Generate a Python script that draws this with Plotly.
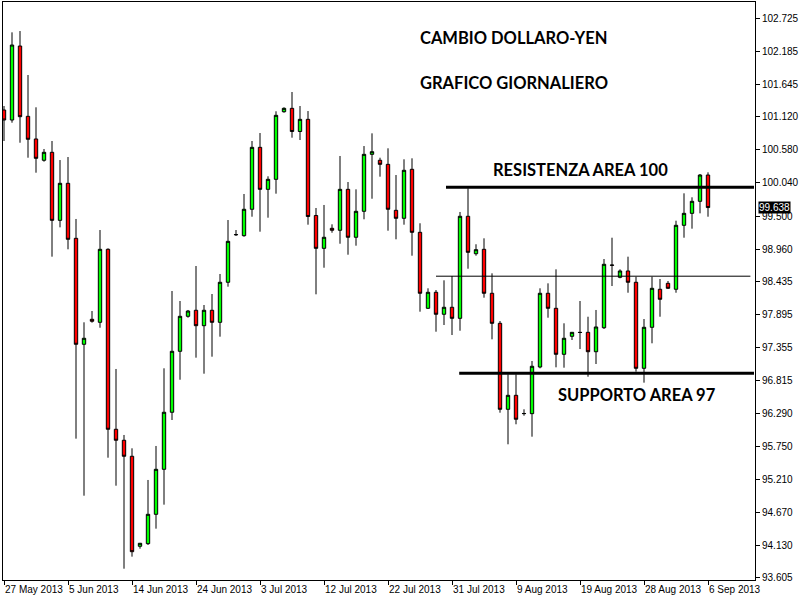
import pandas as pd
import plotly.graph_objects as go

# ---- data (USD/JPY daily, 27 May 2013 - 6 Sep 2013, broker with Sunday bars) ----
dates = [d.strftime("%Y-%m-%d") for d in pd.date_range("2013-05-27", "2013-09-06") if d.weekday() != 5]

open_ = [101.227, 101.064, 102.269, 101.124, 100.755, 100.408, 100.538, 99.430, 100.033, 99.137,
         97.411, 97.818, 97.769, 98.958, 96.027, 95.848, 95.587, 94.121, 94.164, 94.642,
         95.375, 96.304, 97.297, 97.867, 97.965, 97.714, 97.965, 97.769, 98.421, 99.195,
         99.180, 99.610, 100.619, 99.935, 100.098, 101.199, 101.254, 100.877, 101.075, 99.509,
         98.974, 99.300, 99.268, 99.935, 99.154, 99.577, 100.505, 100.408, 100.342, 99.593,
         99.463, 100.261, 99.235, 97.997, 98.258, 97.900, 98.014, 97.834, 99.496, 98.886,
         98.958, 98.242, 97.753, 96.352, 96.580, 96.281, 96.281, 97.041, 98.242, 97.997,
         97.248, 97.541, 97.606, 97.606, 97.290, 97.681, 98.702, 98.502, 98.605, 98.421,
         97.020, 97.688, 98.307, 98.404, 98.307, 99.349, 99.544, 99.740, 100.168]
high = [101.292, 102.492, 102.513, 101.797, 101.271, 100.592, 100.722, 100.412, 100.461, 99.452,
        97.769, 97.953, 99.272, 98.974, 97.009, 95.934, 95.717, 94.175, 95.201, 95.755,
        97.020, 98.279, 98.116, 97.970, 98.686, 98.051, 98.230, 98.556, 99.435, 99.272,
        99.859, 100.722, 100.852, 100.147, 101.206, 101.271, 101.520, 101.292, 101.210, 99.631,
        99.680, 99.365, 100.478, 100.054, 99.935, 100.640, 100.847, 100.450, 100.603, 100.168,
        100.424, 100.440, 99.382, 98.323, 98.295, 98.453, 98.523, 99.566, 99.952, 99.040,
        99.137, 98.567, 97.790, 96.922, 96.922, 96.352, 97.139, 98.323, 98.404, 98.632,
        97.753, 97.606, 98.116, 97.860, 97.970, 98.800, 99.147, 98.632, 98.838, 98.512,
        97.823, 98.512, 98.474, 98.442, 99.424, 99.870, 99.805, 100.184, 100.212]
low = [100.722, 101.020, 100.694, 100.450, 100.206, 100.385, 98.838, 99.316, 98.958, 95.874,
       94.945, 97.763, 97.681, 95.564, 95.108, 93.756, 93.952, 94.082, 94.142, 94.408,
       94.799, 96.178, 96.834, 97.844, 97.193, 96.932, 97.209, 97.535, 98.349, 99.175,
       99.163, 99.489, 99.245, 99.473, 99.864, 101.183, 100.776, 100.738, 99.359, 98.225,
       98.658, 99.228, 99.049, 98.870, 99.017, 99.447, 99.782, 100.141, 99.261, 99.121,
       99.359, 98.854, 97.942, 97.986, 97.616, 97.725, 97.562, 97.632, 98.642, 98.854,
       98.170, 97.492, 96.297, 95.782, 96.108, 96.248, 95.906, 97.020, 97.844, 97.036,
       97.030, 97.481, 97.334, 96.883, 97.090, 97.660, 98.360, 98.486, 98.251, 96.965,
       96.786, 97.427, 97.860, 98.312, 98.251, 99.147, 99.294, 99.544, 99.489]
close = [101.064, 102.285, 101.118, 100.750, 100.440, 100.538, 99.430, 100.033, 99.121, 97.411,
         97.509, 97.786, 98.958, 96.027, 95.848, 95.587, 94.033, 94.170, 94.642, 95.375,
         96.304, 97.297, 97.867, 97.953, 97.714, 97.965, 97.769, 98.421, 99.088, 99.198,
         99.610, 100.619, 99.935, 100.098, 101.140, 101.254, 100.877, 101.075, 99.492, 98.974,
         99.154, 99.268, 99.935, 99.154, 99.577, 100.505, 100.548, 100.342, 99.610, 99.463,
         100.245, 99.235, 98.242, 98.258, 97.900, 98.014, 97.834, 99.496, 98.909, 98.952,
         98.242, 97.753, 96.352, 96.580, 96.190, 96.284, 97.053, 98.242, 97.997, 97.248,
         97.509, 97.606, 97.603, 97.290, 97.693, 98.714, 98.698, 98.605, 98.421, 97.020,
         97.688, 98.323, 98.144, 98.323, 99.349, 99.544, 99.740, 100.168, 99.638]

x_tick_dates = ["2013-05-27", "2013-06-05", "2013-06-14", "2013-06-24", "2013-07-03", "2013-07-12",
                "2013-07-22", "2013-07-31", "2013-08-09", "2013-08-19", "2013-08-28", "2013-09-06"]
x_tick_labels = ["27 May 2013", "5 Jun 2013", "14 Jun 2013", "24 Jun 2013", "3 Jul 2013", "12 Jul 2013",
                 "22 Jul 2013", "31 Jul 2013", "9 Aug 2013", "19 Aug 2013", "28 Aug 2013", "6 Sep 2013"]
y_ticks = [102.725, 102.185, 101.645, 101.120, 100.580, 100.040, 99.500, 98.960, 98.435,
           97.895, 97.355, 96.815, 96.290, 95.750, 95.210, 94.670, 94.130, 93.605]

resistance_level = 99.97
support_level = 96.94
middle_level = 98.52
last_price = 99.638

fig = go.Figure()
fig.add_trace(go.Candlestick(
    x=dates, open=open_, high=high, low=low, close=close,
    increasing=dict(line=dict(color="black", width=1), fillcolor="#00FF00"),
    decreasing=dict(line=dict(color="black", width=1), fillcolor="#FF0000"),
    whiskerwidth=0, showlegend=False, hoverinfo="skip",
))

# horizontal levels (x in category-index units)
fig.add_shape(type="line", xref="x", yref="y", x0=55.25, x1=93.75, y0=resistance_level, y1=resistance_level,
              line=dict(color="black", width=3))
fig.add_shape(type="line", xref="x", yref="y", x0=56.9, x1=93.75, y0=support_level, y1=support_level,
              line=dict(color="black", width=3))
fig.add_shape(type="line", xref="x", yref="y", x0=54.0, x1=93.3, y0=middle_level, y1=middle_level,
              line=dict(color="black", width=1))

W, H = 752.0, 578.0
L, T = 3.0, 2.0
def px(xp):
    return (xp - L) / W
def py(yp):
    return (T + H - yp) / H

txt_font = dict(family="Lato", size=16.5, color="black")
for text, xx, yy in [("<b>CAMBIO DOLLARO-YEN</b>", 418, 38),
                     ("<b>GRAFICO GIORNALIERO</b>", 418, 83),
                     ("<b>RESISTENZA AREA 100</b>", 491, 170),
                     ("<b>SUPPORTO AREA 97</b>", 556, 395)]:
    fig.add_annotation(text=text, xref="paper", yref="paper", x=px(xx), y=py(yy),
                       xanchor="left", yanchor="middle", showarrow=False, font=txt_font)

fig.add_annotation(text=f"{last_price:.3f}", xref="paper", yref="y", x=1, y=last_price,
                   xanchor="left", yanchor="middle", xshift=3, showarrow=False,
                   bgcolor="black", font=dict(family="Liberation Sans", size=10, color="white"),
                   borderpad=0)

axis_font = dict(family="Liberation Sans", size=10, color="black")
fig.update_layout(
    width=800, height=600,
    margin=dict(l=3, r=45, t=2, b=20),
    paper_bgcolor="white", plot_bgcolor="white",
    xaxis=dict(type="category", range=[-0.125, 93.875], rangeslider=dict(visible=False),
               showgrid=False, zeroline=False, showline=True, linecolor="black", linewidth=1, mirror=True,
               ticks="outside", ticklen=4, tickcolor="black", tickangle=0,
               tickvals=x_tick_dates, ticktext=x_tick_labels, tickfont=axis_font,
               ticklabelposition="outside right", fixedrange=True),
    yaxis=dict(side="right", range=[93.572, 102.986], showgrid=False, zeroline=False,
               showline=True, linecolor="black", linewidth=1, mirror=True,
               ticks="outside", ticklen=4, tickcolor="black",
               tickvals=y_ticks, ticktext=[f"{v:.3f}" for v in y_ticks], tickfont=axis_font),
    boxgap=0.4,
)

fig.write_html("out.html", config={"displayModeBar": False},
               post_script="document.body.style.margin='0';")
